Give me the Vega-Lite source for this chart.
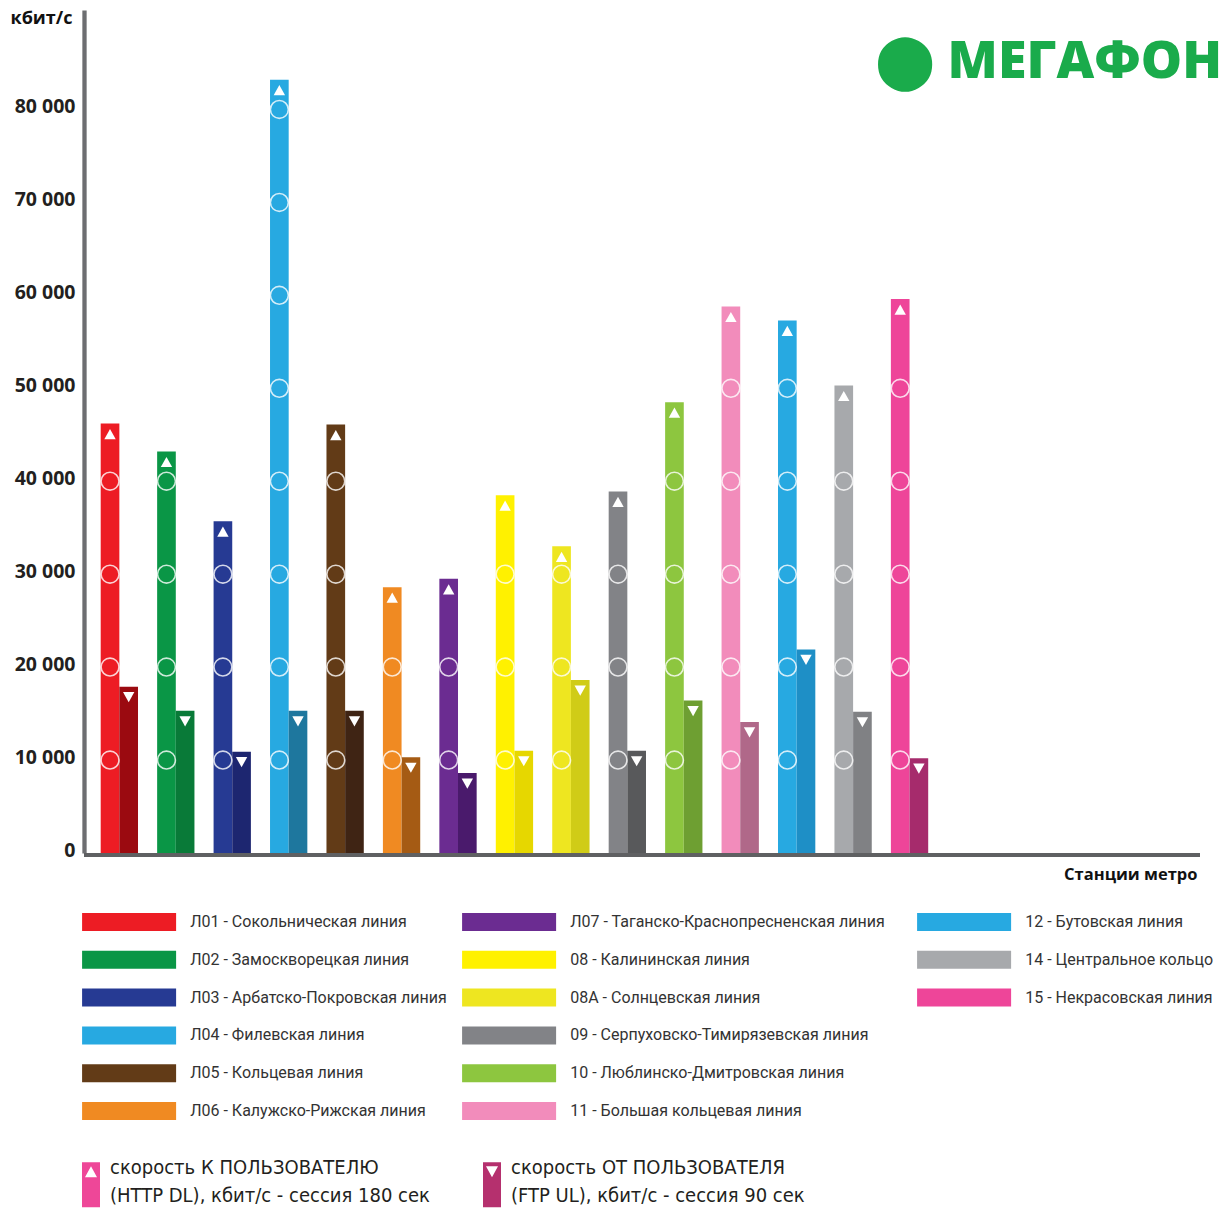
{
  "$schema": "https://vega.github.io/schema/vega-lite/v6.json",
  "width": 1116,
  "height": 843,
  "autosize": "none",
  "padding": {"left": 84, "top": 10, "right": 23, "bottom": 356},
  "background": "white",
  "config": {
    "view": {"stroke": null},
    "font": "Roboto",
    "legend": {"labelLimit": 1000, "padding": 0, "titlePadding": 0},
    "style": {"guide-label": {"lineHeight": 28}}
  },
  "title": {
    "text": "⬤ МЕГАФОН",
    "anchor": "end",
    "frame": "group",
    "orient": "top",
    "offset": 0,
    "dy": 80,
    "dx": 22,
    "color": "#1aab4b",
    "font": "Open Sans",
    "fontSize": 52,
    "fontWeight": 800
  },
  "datasets": {
    "lines": [
      {"code": "Л01", "name": "Л01 - Сокольническая линия", "dl": 46200, "ul": 17900, "rings": [10000, 20000, 30000, 40000]},
      {"code": "Л02", "name": "Л02 - Замоскворецкая линия", "dl": 43200, "ul": 15300, "rings": [10000, 20000, 30000, 40000]},
      {"code": "Л03", "name": "Л03 - Арбатско-Покровская линия", "dl": 35700, "ul": 10900, "rings": [10000, 20000, 30000]},
      {"code": "Л04", "name": "Л04 - Филевская линия", "dl": 83200, "ul": 15300, "rings": [10000, 20000, 30000, 40000, 50000, 60000, 70000, 80000]},
      {"code": "Л05", "name": "Л05 - Кольцевая линия", "dl": 46100, "ul": 15300, "rings": [10000, 20000, 30000, 40000]},
      {"code": "Л06", "name": "Л06 - Калужско-Рижская линия", "dl": 28600, "ul": 10300, "rings": [10000, 20000]},
      {"code": "Л07", "name": "Л07 - Таганско-Краснопресненская линия", "dl": 29500, "ul": 8600, "rings": [10000, 20000]},
      {"code": "08", "name": "08 - Калининская линия", "dl": 38500, "ul": 11000, "rings": [10000, 20000, 30000]},
      {"code": "08A", "name": "08A - Солнцевская линия", "dl": 33000, "ul": 18600, "rings": [10000, 20000, 30000]},
      {"code": "09", "name": "09 - Серпуховско-Тимирязевская линия", "dl": 38900, "ul": 11000, "rings": [10000, 20000, 30000]},
      {"code": "10", "name": "10 - Люблинско-Дмитровская линия", "dl": 48500, "ul": 16400, "rings": [10000, 20000, 30000, 40000]},
      {"code": "11", "name": "11 - Большая кольцевая линия", "dl": 58800, "ul": 14100, "rings": [10000, 20000, 30000, 40000, 50000]},
      {"code": "12", "name": "12 - Бутовская линия", "dl": 57300, "ul": 21900, "rings": [10000, 20000, 30000, 40000, 50000]},
      {"code": "14", "name": "14 - Центральное кольцо", "dl": 50300, "ul": 15200, "rings": [10000, 20000, 30000, 40000]},
      {"code": "15", "name": "15 - Некрасовская линия", "dl": 59600, "ul": 10200, "rings": [10000, 20000, 30000, 40000, 50000]}
    ]
  },
  "layer": [
    {
      "data": {"name": "lines"},
      "transform": [{"fold": ["dl", "ul"], "as": ["type", "value"]}],
      "encoding": {
        "x": {
          "field": "code",
          "type": "nominal",
          "scale": {
            "domain": ["Л01", "Л02", "Л03", "Л04", "Л05", "Л06", "Л07", "08", "08A", "09", "10", "11", "12", "14", "15"],
            "range": [16.7, 844.2],
            "paddingInner": 0.339,
            "paddingOuter": 0,
            "round": false
          },
          "axis": {
            "labels": false,
            "ticks": false,
            "grid": false,
            "domain": false,
            "title": "Станции метро",
            "titleX": 1113,
            "titleY": 21,
            "titleAlign": "right",
            "titleBaseline": "middle",
            "titleFont": "Open Sans",
            "titleFontWeight": "bold",
            "titleFontSize": 16.5,
            "titleColor": "#111111"
          }
        },
        "xOffset": {
          "field": "type",
          "type": "nominal",
          "scale": {"domain": ["dl", "ul"], "paddingInner": 0, "paddingOuter": 0}
        },
        "y": {
          "field": "value",
          "type": "quantitative",
          "stack": null,
          "scale": {"domain": [0, 90700], "nice": false, "zero": true},
          "axis": {
            "title": "кбит/с",
            "titleAngle": 0,
            "titleX": -43,
            "titleY": 8,
            "titleAlign": "center",
            "titleBaseline": "middle",
            "titleFont": "Open Sans",
            "titleFontSize": 18,
            "titleFontWeight": "bold",
            "titleColor": "#111111",
            "labelFont": "Open Sans",
            "labelFontSize": 19.5,
            "labelFontWeight": "bold",
            "labelColor": "#231f20",
            "labelPadding": 9,
            "labelOffset": -3,
            "ticks": false,
            "grid": false,
            "domainColor": "#6d6e71",
            "domainWidth": 4.3,
            "values": [0, 10000, 20000, 30000, 40000, 50000, 60000, 70000, 80000],
            "labelExpr": "replace(format(datum.value, ','), ',', ' ')"
          }
        }
      },
      "layer": [
        {
          "transform": [{"filter": "datum.type == 'dl' && indexof(['Л01','Л02','Л03','Л04','Л05','Л06'], datum.code) >= 0"}],
          "mark": {"type": "bar"},
          "encoding": {
            "color": {
              "field": "name",
              "type": "nominal",
              "scale": {
                "domain": ["Л01 - Сокольническая линия", "Л02 - Замоскворецкая линия", "Л03 - Арбатско-Покровская линия", "Л04 - Филевская линия", "Л05 - Кольцевая линия", "Л06 - Калужско-Рижская линия"],
                "range": ["#ed1c24", "#0a9646", "#263a93", "#27a9e1", "#623b17", "#f08a22"]
              },
              "legend": {
                "orient": "none", "legendX": 26.1, "legendY": 893, "title": null, "direction": "vertical",
                "symbolType": "M-2.487,-0.476H2.487V0.476H-2.487Z", "symbolSize": 1429, "symbolStrokeWidth": 0, "symbolOpacity": 1,
                "labelOffset": 42.1, "rowPadding": 9.8, "labelFont": "Roboto", "labelFontSize": 16, "labelColor": "#333333"
              }
            }
          }
        },
        {
          "transform": [{"filter": "datum.type == 'dl' && indexof(['Л07','08','08A','09','10','11'], datum.code) >= 0"}],
          "mark": {"type": "bar"},
          "encoding": {
            "color": {
              "field": "name",
              "type": "nominal",
              "scale": {
                "domain": ["Л07 - Таганско-Краснопресненская линия", "08 - Калининская линия", "08A - Солнцевская линия", "09 - Серпуховско-Тимирязевская линия", "10 - Люблинско-Дмитровская линия", "11 - Большая кольцевая линия"],
                "range": ["#6b2c91", "#fff100", "#eee620", "#828387", "#8dc63f", "#f28cbb"]
              },
              "legend": {
                "orient": "none", "legendX": 406.1, "legendY": 893, "title": null, "direction": "vertical",
                "symbolType": "M-2.487,-0.476H2.487V0.476H-2.487Z", "symbolSize": 1429, "symbolStrokeWidth": 0, "symbolOpacity": 1,
                "labelOffset": 42.1, "rowPadding": 9.8, "labelFont": "Roboto", "labelFontSize": 16, "labelColor": "#333333"
              }
            }
          }
        },
        {
          "transform": [{"filter": "datum.type == 'dl' && indexof(['12','14','15'], datum.code) >= 0"}],
          "mark": {"type": "bar"},
          "encoding": {
            "color": {
              "field": "name",
              "type": "nominal",
              "scale": {
                "domain": ["12 - Бутовская линия", "14 - Центральное кольцо", "15 - Некрасовская линия"],
                "range": ["#27a9e1", "#a7a9ac", "#ee4599"]
              },
              "legend": {
                "orient": "none", "legendX": 861.1, "legendY": 893, "title": null, "direction": "vertical",
                "symbolType": "M-2.487,-0.476H2.487V0.476H-2.487Z", "symbolSize": 1429, "symbolStrokeWidth": 0, "symbolOpacity": 1,
                "labelOffset": 42.1, "rowPadding": 9.8, "labelFont": "Roboto", "labelFontSize": 16, "labelColor": "#333333"
              }
            }
          }
        },
        {
          "transform": [{"filter": "datum.type == 'ul'"}],
          "mark": {"type": "bar"},
          "encoding": {
            "color": {
              "field": "code",
              "type": "nominal",
              "scale": {
                "domain": ["Л01", "Л02", "Л03", "Л04", "Л05", "Л06", "Л07", "08", "08A", "09", "10", "11", "12", "14", "15"],
                "range": ["#9b0a10", "#097a38", "#1d2670", "#1e779e", "#3f2414", "#a55b14", "#4a1a6c", "#e6d700", "#d0cc17", "#58595b", "#6e9f32", "#b06889", "#1e8fc6", "#808184", "#a62b6c"]
              },
              "legend": null
            }
          }
        },
        {
          "transform": [{"filter": "datum.type == 'dl'"}, {"flatten": ["rings"], "as": ["ring"]}],
          "mark": {"type": "point", "shape": "circle", "filled": false, "stroke": "white", "strokeWidth": 1.6, "size": 320, "opacity": 0.8},
          "encoding": {
            "y": {"field": "ring", "type": "quantitative"}
          }
        },
        {
          "mark": {"type": "point", "filled": true, "fill": "white", "size": 144, "yOffset": 10.5, "opacity": 1, "strokeWidth": 0},
          "encoding": {
            "shape": {
              "field": "type",
              "type": "nominal",
              "scale": {"domain": ["dl", "ul"], "range": ["M0,-0.85L0.95,0.85L-0.95,0.85Z", "M-0.95,-0.85L0.95,-0.85L0,0.85Z"]},
              "legend": null
            }
          }
        },
        {
          "mark": {"type": "point", "filled": true, "opacity": 0, "size": 2025, "strokeWidth": 0},
          "encoding": {
            "color": {
              "field": "type",
              "type": "nominal",
              "scale": {"domain": ["dl", "ul"], "range": ["#ee4798", "#b5306e"]},
              "legend": {
                "orient": "none", "legendX": -15.5, "legendY": 1135.5, "title": null, "direction": "horizontal",
                "symbolSize": 2025, "symbolStrokeWidth": 0, "symbolOpacity": 1, "labelOffset": -3.5, "columnPadding": 39,
                "labelFont": "'DejaVu Sans Condensed', 'Liberation Sans', sans-serif", "labelFontSize": 20, "labelColor": "#231f20",
                "labelExpr": "datum.value == 'dl' ? ['скорость К ПОЛЬЗОВАТЕЛЮ', '(HTTP DL), кбит/с - сессия 180 сек'] : ['скорость ОТ ПОЛЬЗОВАТЕЛЯ', '(FTP UL), кбит/с - сессия 90 сек']"
              }
            },
            "shape": {
              "field": "type",
              "type": "nominal",
              "scale": {"domain": ["dl", "ul"], "range": ["M-0.4,-0.267H0.4V1.733H-0.4ZM0,-0.089L-0.267,0.4L0.267,0.4Z", "M-0.4,-0.267H0.4V1.733H-0.4ZM-0.267,-0.089L0,0.4L0.267,-0.089Z"]},
              "legend": {
                "orient": "none", "legendX": -15.5, "legendY": 1135.5, "title": null, "direction": "horizontal",
                "symbolSize": 2025, "symbolStrokeWidth": 0, "symbolOpacity": 1, "labelOffset": -3.5, "columnPadding": 39,
                "labelFont": "'DejaVu Sans Condensed', 'Liberation Sans', sans-serif", "labelFontSize": 20, "labelColor": "#231f20",
                "labelExpr": "datum.value == 'dl' ? ['скорость К ПОЛЬЗОВАТЕЛЮ', '(HTTP DL), кбит/с - сессия 180 сек'] : ['скорость ОТ ПОЛЬЗОВАТЕЛЯ', '(FTP UL), кбит/с - сессия 90 сек']"
              }
            }
          }
        }
      ],
      "resolve": {"scale": {"color": "independent", "shape": "independent"}}
    },
    {
      "data": {"values": [{}]},
      "mark": {"type": "rule", "strokeWidth": 4, "color": "#5f6062", "yOffset": 2},
      "encoding": {"y": {"datum": 0}}
    }
  ],
  "resolve": {"scale": {"color": "independent", "shape": "independent"}}
}
